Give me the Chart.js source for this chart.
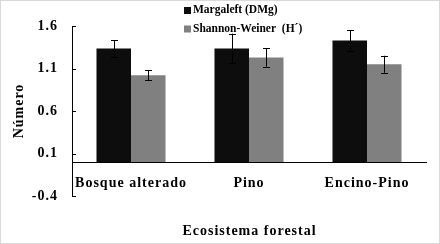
<!DOCTYPE html>
<html><head><meta charset="utf-8">
<script src="https://cdn.jsdelivr.net/npm/chart.js@4/dist/chart.umd.min.js"></script>
<style>html,body{margin:0;padding:0;background:#fff}#wrap{width:440px;height:244px;position:relative}</style>
</head><body><div id="wrap"><canvas id="c" width="440" height="244"></canvas></div>
<script>
const categories = ['Bosque alterado', 'Pino', 'Encino-Pino'];
const seriesNames = ['Margaleft (DMg)', 'Shannon-Weiner  (H´)'];
const margalef = [1.335, 1.335, 1.43];
const margalefErr = [0.10, 0.175, 0.12];
const shannon = [1.02, 1.23, 1.15];
const shannonErr = [0.057, 0.11, 0.10];
const yTicks = [-0.4, 0.1, 0.6, 1.1, 1.6];
const xTitle = 'Ecosistema forestal';

const FONT = "'Liberation Serif','Times New Roman',serif";
const errs = [margalefErr, shannonErr];

const spacing = {
  id: 'spacing',
  beforeDraw(chart) { chart.ctx.letterSpacing = '1px'; }
};

const errorBars = {
  id: 'errorBars',
  afterDatasetsDraw(chart) {
    const ctx = chart.ctx, ys = chart.scales.y;
    ctx.save();
    ctx.strokeStyle = '#000'; ctx.lineWidth = 1;
    chart.data.datasets.forEach((ds, i) => {
      const meta = chart.getDatasetMeta(i);
      meta.data.forEach((el, j) => {
        const v = ds.data[j], e = errs[i][j];
        const x = Math.round(el.x) + 0.5;
        const t = ys.getPixelForValue(v + e), b = ys.getPixelForValue(v - e);
        ctx.beginPath();
        ctx.moveTo(x, t); ctx.lineTo(x, b);
        ctx.moveTo(x - 3.5, Math.round(t) + 0.5); ctx.lineTo(x + 3.5, Math.round(t) + 0.5);
        ctx.moveTo(x - 3.5, Math.round(b) + 0.5); ctx.lineTo(x + 3.5, Math.round(b) + 0.5);
        ctx.stroke();
      });
    });
    ctx.restore();
  }
};

const extras = {
  id: 'extras',
  afterDraw(chart) {
    const ctx = chart.ctx, ys = chart.scales.y, ca = chart.chartArea;
    ctx.save();
    // x axis title centred on the plot area
    ctx.letterSpacing = '1px';
    ctx.font = "bold 14px " + FONT;
    ctx.fillStyle = '#000';
    ctx.textAlign = 'center';
    ctx.textBaseline = 'middle';
    ctx.fillText(xTitle, (ca.left + ca.right) / 2 + 0.5, 231);
    ctx.letterSpacing = '0px';
    ctx.textAlign = 'left';
    // inward ticks
    ctx.strokeStyle = '#000'; ctx.lineWidth = 1;
    yTicks.forEach(t => {
      const y = Math.round(ys.getPixelForValue(t)) + 0.5;
      ctx.beginPath(); ctx.moveTo(ca.left, y); ctx.lineTo(ca.left + 4, y); ctx.stroke();
    });
    // legend
    ctx.font = "bold 11.5px " + FONT;
    const rows = [10.5, 29];
    chart.data.datasets.forEach((ds, i) => {
      ctx.fillStyle = ds.backgroundColor;
      ctx.fillRect(184, rows[i] - 3.5, 7, 7);
      ctx.fillStyle = '#000';
      ctx.fillText(ds.label, 193, rows[i]);
    });
    // outer border
    ctx.strokeStyle = '#d9d9d9';
    ctx.strokeRect(0.5, 0.5, 439, 243);
    ctx.restore();
  }
};

new Chart(document.getElementById('c'), {
  type: 'bar',
  data: {
    labels: categories,
    datasets: [
      { label: seriesNames[0], data: margalef, backgroundColor: '#0d0d0d' },
      { label: seriesNames[1], data: shannon, backgroundColor: '#808080' }
    ]
  },
  options: {
    responsive: false,
    animation: false,
    devicePixelRatio: 1,
    layout: { padding: { left: 0, right: 14, top: 26, bottom: 48 } },
    categoryPercentage: 0.585,
    barPercentage: 1,
    plugins: {
      legend: { display: false },
      tooltip: { enabled: false },
      title: { display: false }
    },
    scales: {
      x: {
        type: 'category',
        position: { y: 0 },
        grid: { display: false, drawTicks: false },
        border: { display: true, color: '#000', width: 1 },
        ticks: { color: '#000', padding: 13, font: { family: FONT, size: 14, weight: 'bold' }, maxRotation: 0 }
      },
      y: {
        min: -0.4, max: 1.6,
        afterBuildTicks(s) { s.ticks = yTicks.map(v => ({ value: v })); },
        afterFit(s) { s.width = 72; },
        grid: { display: true, drawOnChartArea: false, drawTicks: false },
        border: { display: true, color: '#000', width: 1 },
        ticks: { color: '#000', padding: 14, font: { family: FONT, size: 14, weight: 'bold' },
                 callback: v => v.toFixed(1) },
        title: { display: true, text: 'Número', color: '#000', padding: { top: 11, bottom: 0 },
                 font: { family: FONT, size: 14, weight: 'bold' } }
      }
    }
  },
  plugins: [spacing, errorBars, extras]
});
</script></body></html>
